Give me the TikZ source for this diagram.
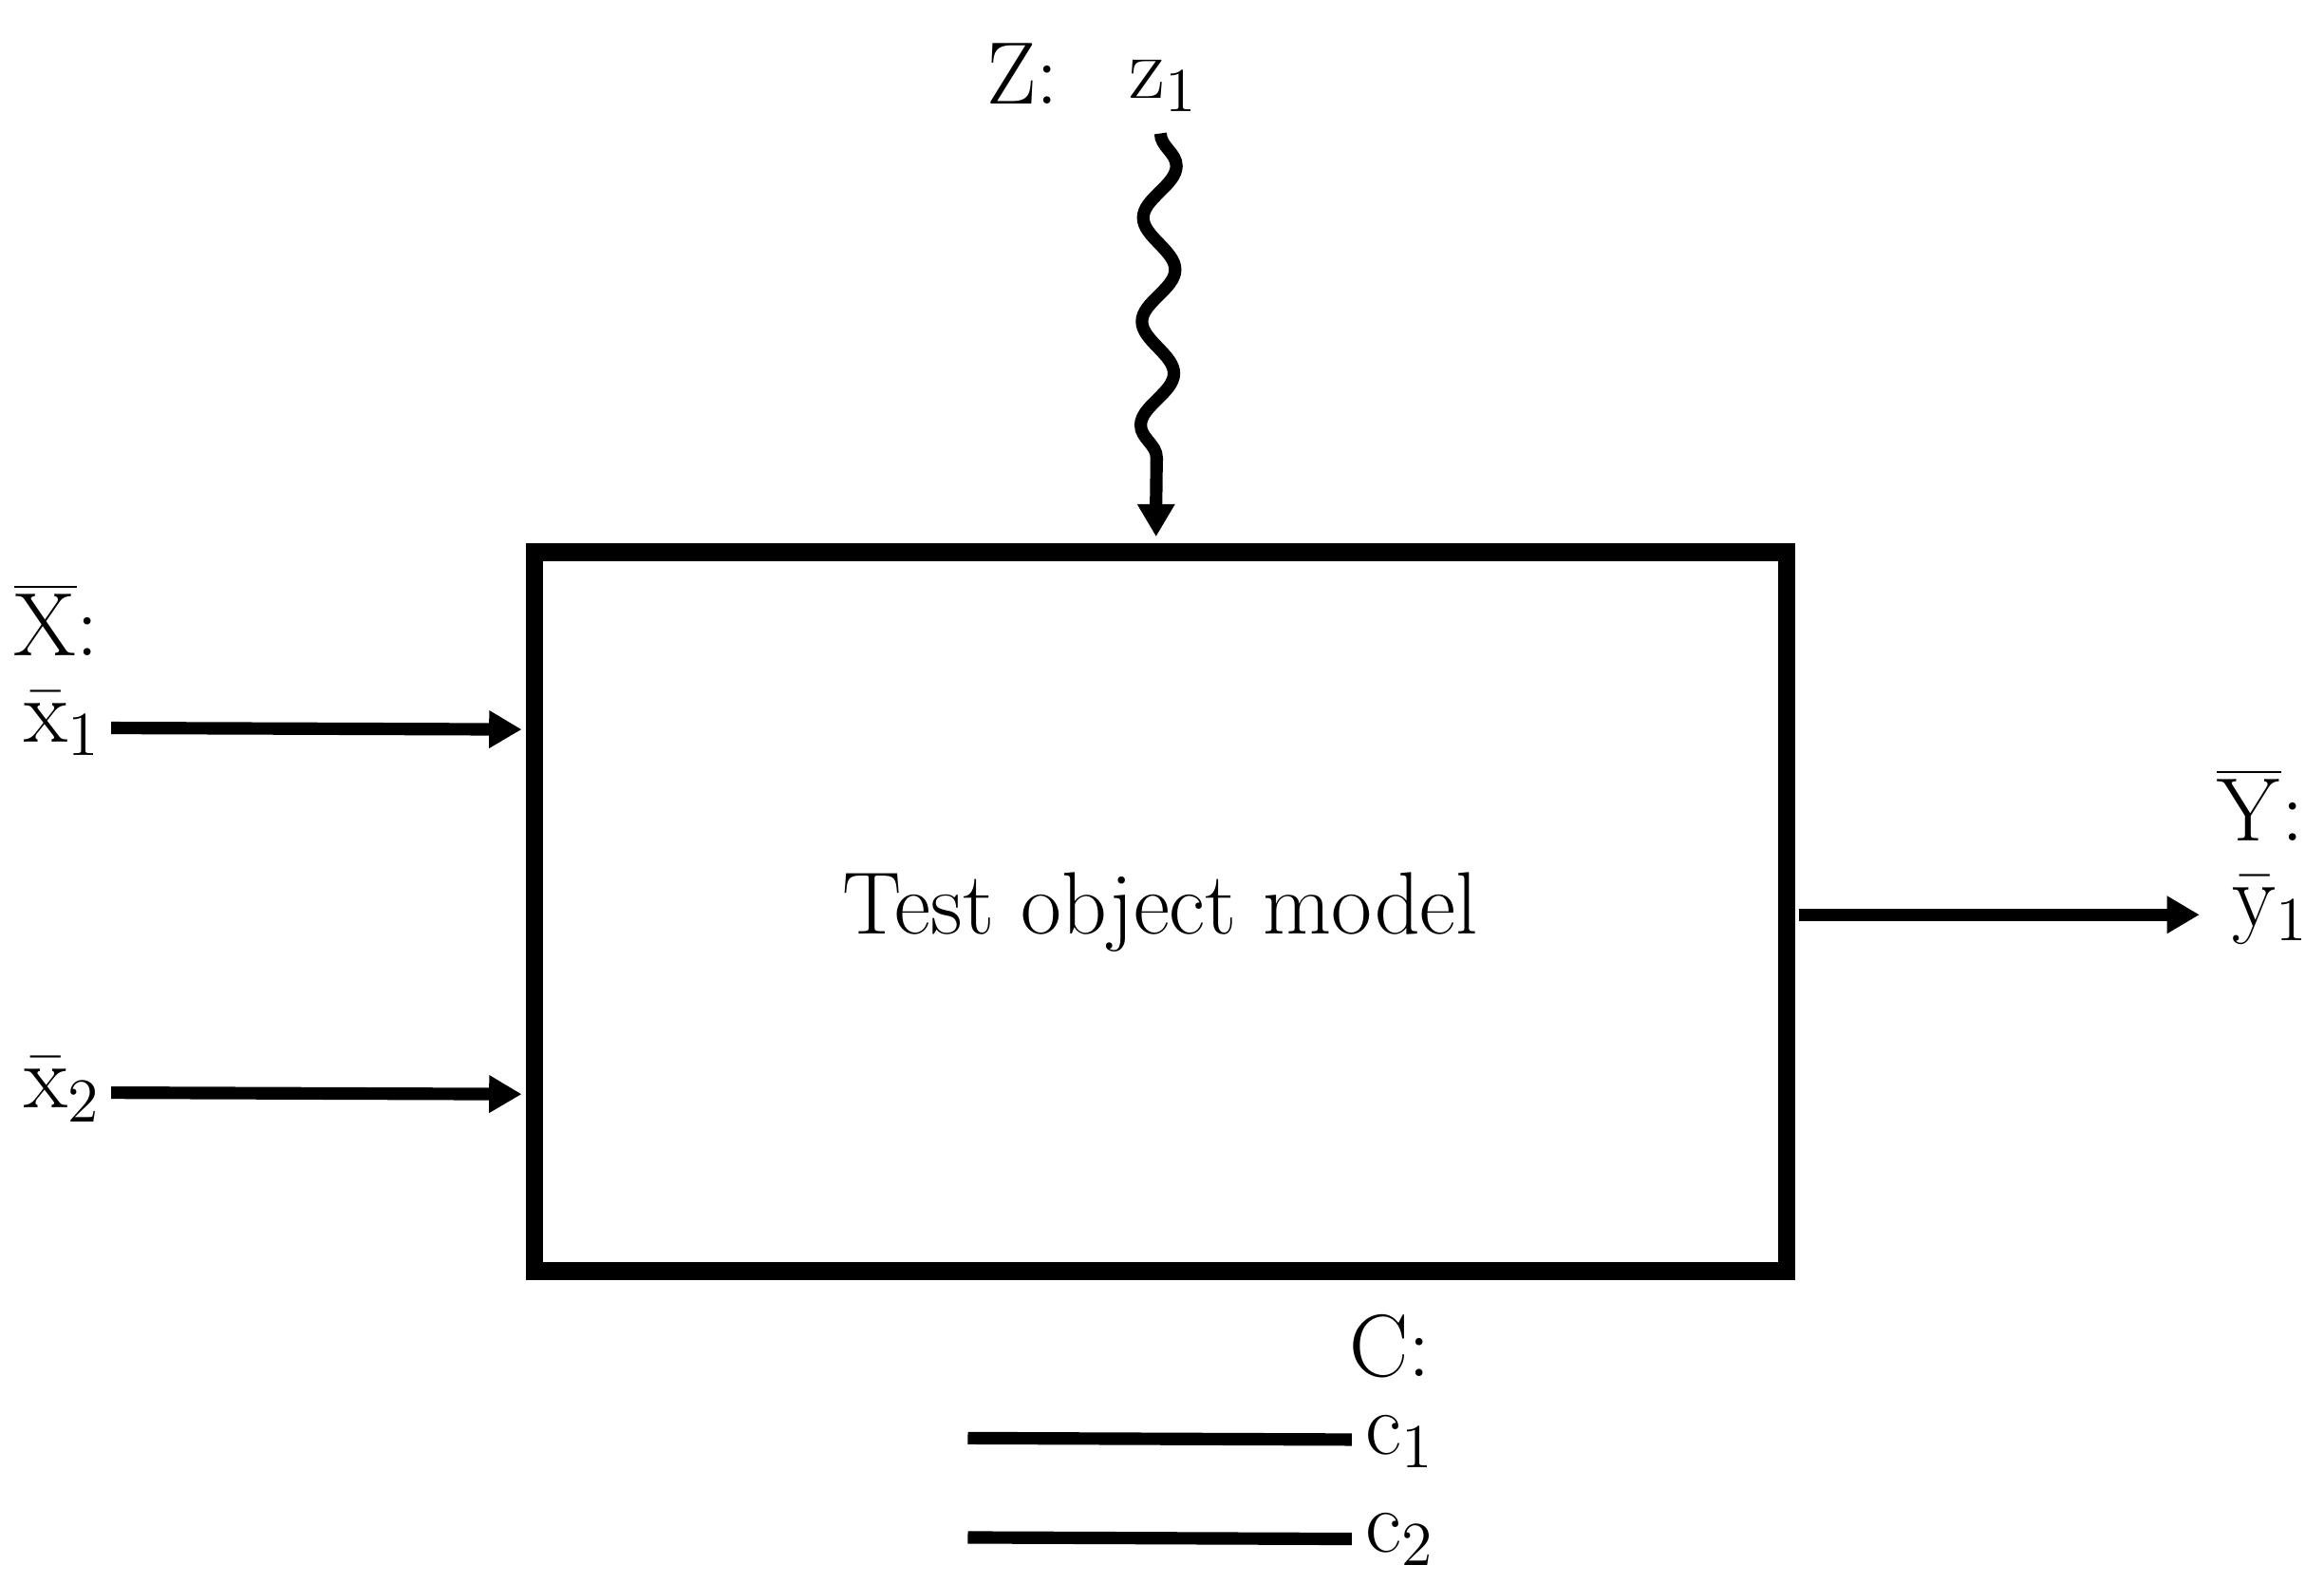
\documentclass[tikz,border=0pt]{standalone}
\usetikzlibrary{decorations.pathmorphing,arrows.meta}
\begin{document}
\begin{tikzpicture}[x=0.1mm,y=-0.1mm,
  lbl/.style={font=\fontsize{17}{20}\selectfont,inner sep=0pt},
  arr/.style={line width=2.4pt,-{Triangle[length=2.2mm,width=2.4mm]}},
  bar/.style={line width=2.4pt}]
\useasboundingbox (0,0) rectangle (1568,1068);
\node[draw,line width=3.4pt,minimum width=84.5mm,minimum height=48.5mm,inner sep=0pt,font=\fontsize{17}{20}\selectfont] (box) at (783,615) {Test object model};
\node[lbl] (Z) at (690,50) {Z:};
\node[lbl] (z1) at (785,58) {z$_1$};
\coordinate (zs) at (783,90);
\coordinate (ze) at (780,362);
\draw[line width=2.4pt,decorate,decoration={snake,amplitude=1.1mm,segment length=7mm,post length=3mm}] (zs) -- (780,340);
\draw[arr] (780,335) -- (ze);
\node[lbl] (X) at (38,418) {$\overline{\mathrm{X}}$:};
\node[lbl] (x1) at (42,488) {$\bar{\mathrm{x}}_1$};
\node[lbl] (x2) at (42,735) {$\bar{\mathrm{x}}_2$};
\coordinate (a1) at (352,492);
\coordinate (a2) at (352,738);
\draw[arr] (75,491) -- (a1);
\draw[arr] (75,737) -- (a2);
\node[lbl] (Y) at (1525,543) {$\overline{\mathrm{Y}}$:};
\node[lbl] (y1) at (1532,614) {$\bar{\mathrm{y}}_1$};
\coordinate (yo) at (1214,617);
\coordinate (ye) at (1484,617);
\draw[arr] (yo) -- (ye);
\node[lbl] (C) at (938,908) {C:};
\node[lbl] (c1) at (945,972) {c$_1$};
\node[lbl] (c2) at (945,1038) {c$_2$};
\coordinate (c1s) at (653,970);
\coordinate (c2s) at (653,1037);
\draw[bar] (c1s) -- (912,971);
\draw[bar] (c2s) -- (912,1038);
\end{tikzpicture}
\end{document}
